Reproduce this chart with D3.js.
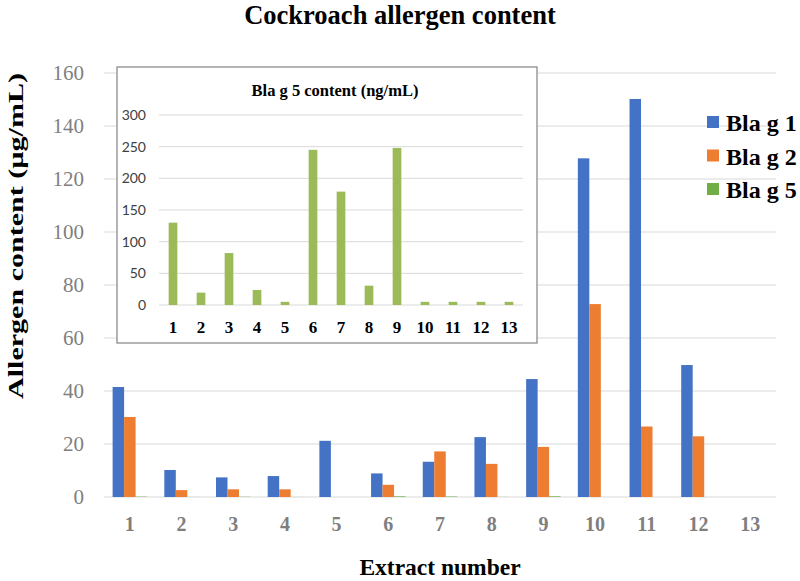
<!DOCTYPE html>
<html>
<head>
<meta charset="utf-8">
<script src="https://cdn.jsdelivr.net/npm/d3@7"></script>
<style>
  html, body { margin: 0; padding: 0; background: #fff; }
  svg { display: block; }
</style>
</head>
<body>
<svg id="chart" width="800" height="581"></svg>
<script>
// ---- data ----
const extracts = ["1","2","3","4","5","6","7","8","9","10","11","12","13"];
const seriesNames = ["Bla g 1", "Bla g 2", "Bla g 5"];
const blaG1 = [41.5, 10.2, 7.4, 7.9, 21.2, 8.9, 13.3, 22.6, 44.5, 127.8, 150.2, 49.8, 0];   // µg/mL
const blaG2 = [30.2, 2.6, 2.9, 2.9, 0, 4.6, 17.2, 12.5, 18.9, 72.8, 26.6, 22.9, 0];         // µg/mL
const blaG5 = [130, 19.5, 82, 23.7, 5, 245, 179, 30.5, 248, 5, 5, 5, 5];                     // ng/mL
const mainTicks = [0, 20, 40, 60, 80, 100, 120, 140, 160];
const insetTicks = [0, 50, 100, 150, 200, 250, 300];
const colors = ["#4472C4", "#ED7D31", "#70AD47"];
const insetColor = "#9BBB59";

const svg = d3.select("#chart");
const serif = "'Liberation Serif', 'Times New Roman', serif";

// ---- main scales ----
const x = d3.scaleBand().domain(extracts).range([104, 776]).paddingInner(0.333).paddingOuter(0.1667);
const xs = d3.scaleBand().domain(seriesNames).range([0, x.bandwidth()]);
const y = d3.scaleLinear().domain([0, 160]).range([497, 73]);

// gridlines
svg.append("g").selectAll("line").data(mainTicks).join("line")
  .attr("x1", 104).attr("x2", 776)
  .attr("y1", d => y(d)).attr("y2", d => y(d))
  .attr("stroke", "#d9d9d9").attr("stroke-width", 1);

// y tick labels
svg.append("g").selectAll("text").data(mainTicks).join("text")
  .attr("x", 84).attr("y", d => y(d)).attr("dy", "0.35em")
  .attr("text-anchor", "end")
  .attr("font-family", serif).attr("font-size", 21).attr("fill", "#7f7f7f")
  .text(d => d);

// x tick labels
svg.append("g").selectAll("text").data(extracts).join("text")
  .attr("x", d => x(d) + x.bandwidth() / 2).attr("y", 531)
  .attr("text-anchor", "middle")
  .attr("font-family", serif).attr("font-weight", "bold").attr("font-size", 20).attr("fill", "#7f7f7f")
  .text(d => d);

// bars
const mainSeries = [
  { name: seriesNames[0], values: blaG1 },
  { name: seriesNames[1], values: blaG2 },
  { name: seriesNames[2], values: blaG5.map(v => v / 1000) } // ng/mL -> µg/mL
];
mainSeries.forEach((s, si) => {
  svg.append("g").selectAll("rect").data(s.values).join("rect")
    .attr("x", (d, i) => x(extracts[i]) + xs(s.name))
    .attr("width", xs.bandwidth())
    .attr("y", d => y(d))
    .attr("height", d => y(0) - y(d))
    .attr("fill", colors[si]);
});

// ---- inset ----
const inset = svg.append("g");
inset.append("rect")
  .attr("x", 117).attr("y", 67).attr("width", 420).attr("height", 276)
  .attr("fill", "#fff").attr("stroke", "#8c8c8c").attr("stroke-width", 1.3);

const xi = d3.scaleBand().domain(extracts).range([159, 523]).paddingInner(0.69).paddingOuter(0.345);
const yi = d3.scaleLinear().domain([0, 300]).range([305, 115]);

inset.append("g").selectAll("line").data(insetTicks).join("line")
  .attr("x1", 159).attr("x2", 523)
  .attr("y1", d => yi(d)).attr("y2", d => yi(d))
  .attr("stroke", "#d9d9d9").attr("stroke-width", 1);

inset.append("g").selectAll("text").data(insetTicks).join("text")
  .attr("x", 146).attr("y", d => yi(d)).attr("dy", "0.35em")
  .attr("text-anchor", "end")
  .attr("font-family", "Lato, 'Liberation Sans', sans-serif").attr("font-size", 14).attr("fill", "#404040")
  .text(d => d);

inset.append("g").selectAll("rect").data(blaG5).join("rect")
  .attr("x", (d, i) => xi(extracts[i]))
  .attr("width", xi.bandwidth())
  .attr("y", d => yi(d))
  .attr("height", d => yi(0) - yi(d))
  .attr("fill", insetColor);

inset.append("g").selectAll("text").data(extracts).join("text")
  .attr("x", d => xi(d) + xi.bandwidth() / 2).attr("y", 333)
  .attr("text-anchor", "middle")
  .attr("font-family", serif).attr("font-weight", "bold").attr("font-size", 17).attr("fill", "#000")
  .text(d => d);

inset.append("text")
  .attr("x", 335).attr("y", 96)
  .attr("text-anchor", "middle")
  .attr("font-family", serif).attr("font-weight", "bold").attr("font-size", 16.5).attr("fill", "#000")
  .text("Bla g 5 content (ng/mL)");

// ---- legend ----
const legend = svg.append("g");
seriesNames.forEach((n, i) => {
  const yy = 116 + i * 33.5;
  legend.append("rect").attr("x", 707).attr("y", yy).attr("width", 12).attr("height", 12).attr("fill", colors[i]);
  legend.append("text").attr("x", 726).attr("y", yy + 15)
    .attr("font-family", serif).attr("font-weight", "bold").attr("font-size", 24).attr("fill", "#000")
    .text(n);
});

// ---- titles ----
svg.append("text")
  .attr("x", 400).attr("y", 24)
  .attr("text-anchor", "middle")
  .attr("font-family", serif).attr("font-weight", "bold").attr("font-size", 26.5).attr("fill", "#000")
  .text("Cockroach allergen content");

svg.append("text")
  .attr("x", 440).attr("y", 575)
  .attr("text-anchor", "middle")
  .attr("font-family", serif).attr("font-weight", "bold").attr("font-size", 23.5).attr("fill", "#000")
  .text("Extract number");

svg.append("text")
  .attr("transform", "translate(23,236) rotate(-90)")
  .attr("text-anchor", "middle")
  .attr("font-family", serif).attr("font-weight", "bold").attr("font-size", 22).attr("fill", "#000")
  .attr("textLength", 326).attr("lengthAdjust", "spacingAndGlyphs")
  .text("Allergen content (µg/mL)");
</script>
</body>
</html>
